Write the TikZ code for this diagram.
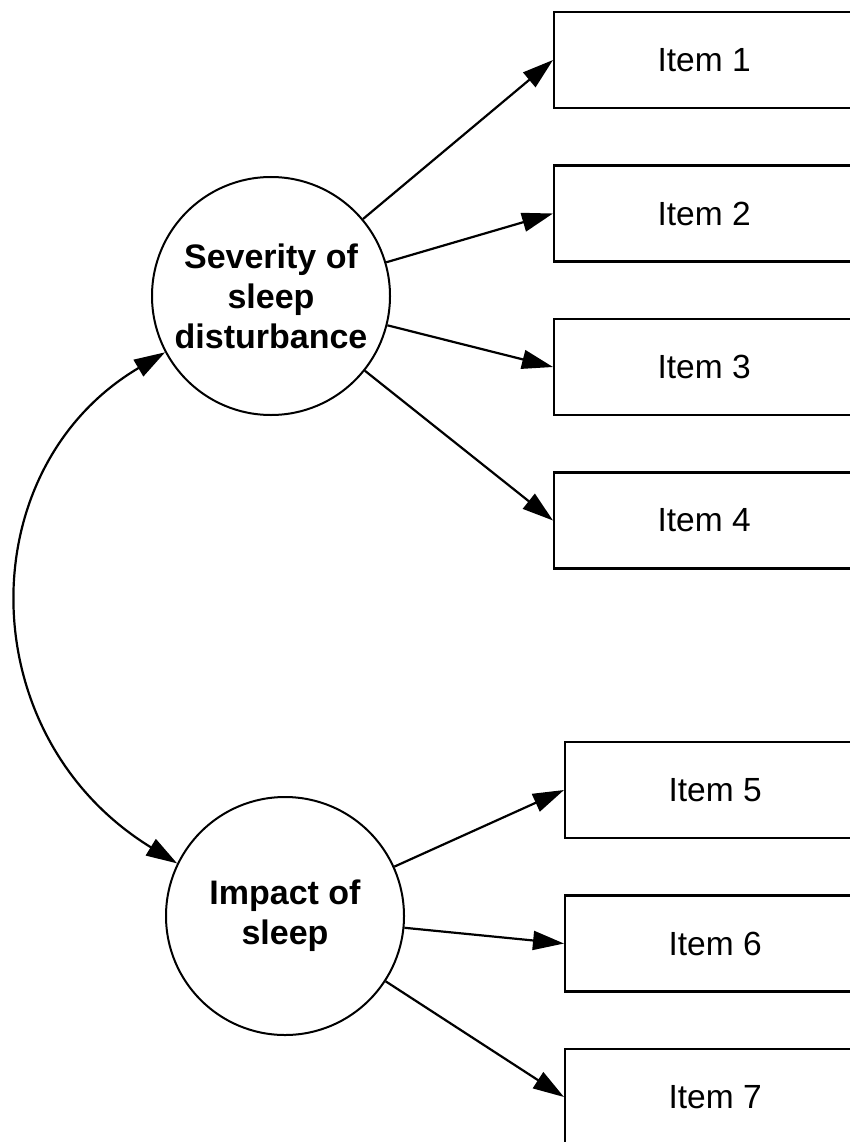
\documentclass[tikz,border=0pt]{standalone}
\usepackage{fontspec}
\setmainfont{Liberation Sans}
\usetikzlibrary{arrows.meta}
\begin{document}
\begin{tikzpicture}[x=1pt,y=-1pt,
  latent/.style={circle,draw,line width=2pt,minimum size=238pt,inner sep=0pt,
    font=\fontsize{34}{40}\selectfont\bfseries,align=center},
  itembox/.style={rectangle,draw,line width=2.2pt,minimum width=300pt,minimum height=96pt,
    anchor=west,inner sep=0pt,font=\fontsize{33.5}{40}\selectfont},
  tip/.style={Triangle[length=31pt,width=19pt]},
  link/.style={line width=2.2pt,-{Triangle[length=31pt,width=19pt]}},
  cov/.style={line width=2.2pt,{Triangle[length=31pt,width=19pt]}-{Triangle[length=31pt,width=19pt]}}]
\clip (0,0) rectangle (850,1142);
\node[latent] (f1) at (271,296) {Severity of\\sleep\\disturbance};
\node[latent] (f2) at (285,916) {Impact of\\sleep};
\node[itembox] (i1) at (553,60) {Item 1};
\node[itembox] (i2) at (553,213.5) {Item 2};
\node[itembox] (i3) at (553,367) {Item 3};
\node[itembox] (i4) at (553,520.5) {Item 4};
\node[itembox] (i5) at (564,790) {Item 5};
\node[itembox] (i6) at (564,943.5) {Item 6};
\node[itembox] (i7) at (564,1097) {Item 7};
\foreach \i in {1,2,3,4} \draw[link] (f1) -- (i\i.west);
\foreach \i in {5,6,7} \draw[link] (f2) -- (i\i.west);
\draw[cov] (f1.208) .. controls +(-196,116) and +(-207,-127) .. (f2.154);
\end{tikzpicture}
\end{document}
